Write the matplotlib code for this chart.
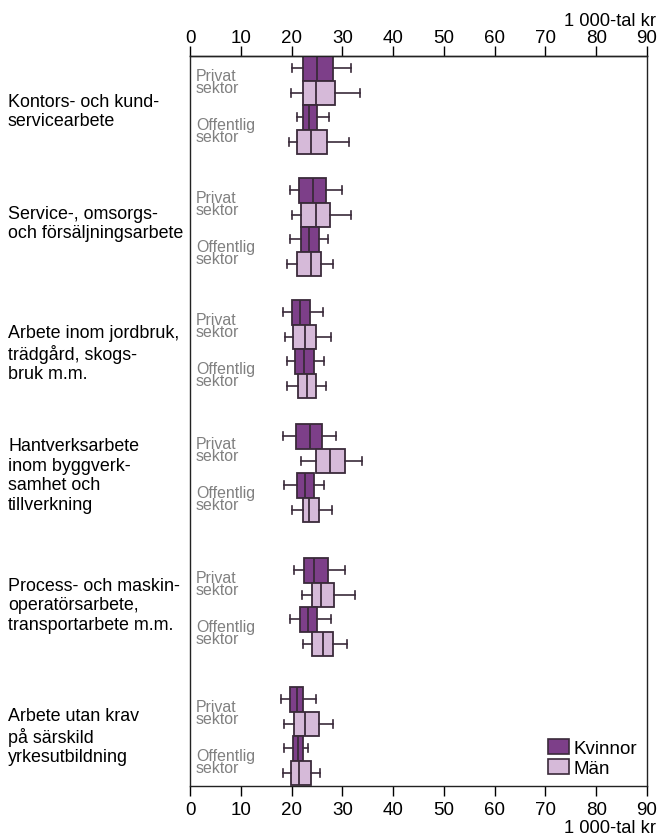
import numpy as np
import matplotlib
matplotlib.use("Agg")
import matplotlib.pyplot as plt
from matplotlib.patches import Patch
import matplotlib.transforms as mtransforms

plt.rcParams['font.family'] = ['Liberation Sans', 'DejaVu Sans']

# categories (occupational groups)
categories = [
    "Kontors- och kund-\nservicearbete",
    "Service-, omsorgs-\noch försäljningsarbete",
    "Arbete inom jordbruk,\nträdgård, skogs-\nbruk m.m.",
    "Hantverksarbete\ninom byggverk-\nsamhet och\ntillverkning",
    "Process- och maskin-\noperatörsarbete,\ntransportarbete m.m.",
    "Arbete utan krav\npå särskild\nyrkesutbildning",
]

# monthly salary, 1 000-tal kr: [whisker low, q1, median, q3, whisker high]
kvinnor_privat = [
    [20.0, 22.3, 25.0, 28.1, 31.7],
    [19.7, 21.5, 24.2, 26.7, 30.0],
    [18.4, 20.0, 21.7, 23.6, 26.1],
    [18.4, 20.8, 23.6, 25.9, 28.7],
    [20.5, 22.5, 24.4, 27.1, 30.5],
    [17.9, 19.6, 21.0, 22.3, 24.8],
]
man_privat = [
    [19.9, 22.2, 24.8, 28.6, 33.5],
    [20.1, 21.8, 24.8, 27.6, 31.7],
    [18.7, 20.3, 22.6, 24.8, 27.7],
    [21.8, 24.8, 27.6, 30.5, 33.8],
    [22.0, 24.0, 25.8, 28.4, 32.4],
    [18.6, 20.5, 22.6, 25.5, 28.1],
]
kvinnor_offentlig = [
    [21.0, 22.3, 23.4, 25.1, 27.4],
    [19.7, 21.8, 23.5, 25.4, 27.1],
    [19.2, 20.7, 22.5, 24.5, 26.4],
    [18.5, 21.0, 22.6, 24.5, 26.4],
    [19.6, 21.7, 23.2, 25.1, 27.8],
    [18.6, 20.2, 21.3, 22.3, 23.2],
]
man_offentlig = [
    [19.4, 21.1, 23.8, 27.0, 31.3],
    [19.2, 21.0, 23.8, 25.8, 28.1],
    [19.2, 21.3, 23.0, 24.8, 26.7],
    [20.1, 22.2, 23.5, 25.4, 27.9],
    [22.2, 24.0, 26.1, 28.2, 30.9],
    [18.3, 19.9, 21.4, 23.8, 25.6],
]
xticks = np.arange(0, 91, 10)

# layout (pixel rows of the original chart, y axis runs top -> bottom)
group_top = [57, 179, 301, 425, 559, 688]
label_shift = [6, -4, 4, 2, -2, 0]
box_h = 24.5

col_k = '#7d3f89'
col_m = '#d6bad9'
edge = '#3a2a3a'

fig = plt.figure(figsize=(6.59, 8.37), dpi=100)
ax = fig.add_axes([190 / 659, 1 - 787 / 837, 457 / 659, 730 / 837])


def stats(rows):
    return [dict(whislo=r[0], q1=r[1], med=r[2], q3=r[3], whishi=r[4], fliers=[]) for r in rows]


series = [(kvinnor_privat, col_k, 0), (man_privat, col_m, 1),
          (kvinnor_offentlig, col_k, 2), (man_offentlig, col_m, 3)]
for rows, col, i in series:
    pos = [t + box_h * (i + 0.5) for t in group_top]
    ax.bxp(stats(rows), positions=pos, widths=box_h, orientation='horizontal',
           patch_artist=True, showfliers=False, capwidths=8,
           boxprops=dict(facecolor=col, edgecolor=edge, linewidth=1.3),
           medianprops=dict(color=edge, linewidth=1.3),
           whiskerprops=dict(color=edge, linewidth=1.2),
           capprops=dict(color=edge, linewidth=1.2),
           manage_ticks=False)

ax.set_xlim(0, 90)
ax.set_ylim(787, 57)
ax.set_xticks(xticks)
ax.set_yticks([])
ax.tick_params(axis='x', top=False, bottom=True, direction='out', length=7,
               width=1, labelsize=13.5, pad=4)
top = ax.secondary_xaxis('top')
top.set_xticks(xticks)
top.tick_params(axis='x', direction='out', length=7, width=1, labelsize=13.5, pad=0)
for s in list(ax.spines.values()) + list(top.spines.values()):
    s.set_linewidth(1)
    s.set_color('#222222')

trans = mtransforms.blended_transform_factory(fig.transFigure, ax.transData)
for t, sh, lab in zip(group_top, label_shift, categories):
    ax.text(8 / 659, t + 2 * box_h + sh, lab, transform=trans, ha='left', va='center',
            fontsize=12.9, linespacing=1.2)
    ax.text(196 / 659, t + box_h + 1, "Privat\nsektor", transform=trans, ha='left',
            va='center', fontsize=11.4, color='#808080', linespacing=0.8)
    ax.text(196 / 659, t + 3 * box_h + 1, "Offentlig\nsektor", transform=trans,
            ha='left', va='center', fontsize=11.4, color='#808080', linespacing=0.8)

fig.text(656 / 659, 1 - 22 / 837, "1 000-tal kr", ha='right', va='center', fontsize=13.2)
fig.text(656 / 659, 1 - 829 / 837, "1 000-tal kr", ha='right', va='center', fontsize=13.2)

handles = [Patch(facecolor=col_k, edgecolor=edge, linewidth=1.2, label='Kvinnor'),
           Patch(facecolor=col_m, edgecolor=edge, linewidth=1.2, label='Män')]
ax.legend(handles=handles, loc='lower right', bbox_to_anchor=(0.978, 0.012),
          frameon=False, fontsize=13.5, handlelength=1.12, handleheight=0.85,
          handletextpad=0.25, labelspacing=0.1, borderpad=0, borderaxespad=0)

fig.savefig('out.png', dpi=100)
